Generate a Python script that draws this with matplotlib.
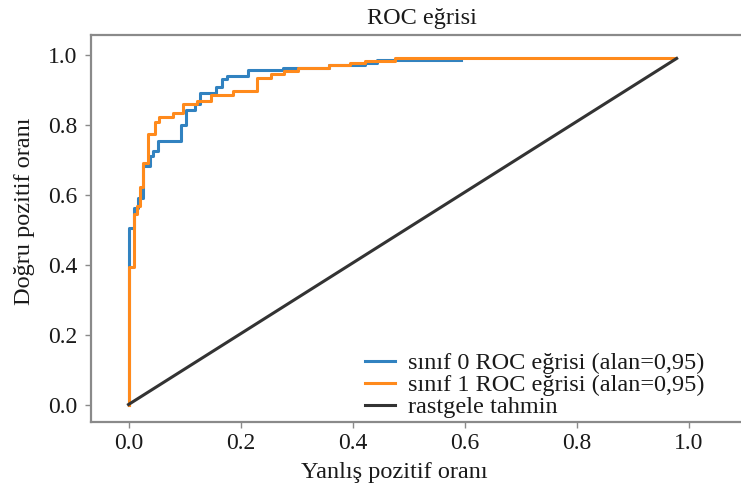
import matplotlib
matplotlib.use("Agg")
import matplotlib.pyplot as plt

# ROC curve vertices
fpr0 = [0, 0, 0.009, 0.009, 0.017, 0.017, 0.026, 0.026, 0.038, 0.038, 0.044, 0.044,
        0.053, 0.053, 0.094, 0.094, 0.103, 0.103, 0.119, 0.119, 0.128, 0.128,
        0.157, 0.157, 0.166, 0.166, 0.175, 0.175, 0.214, 0.214, 0.276, 0.276,
        0.358, 0.358, 0.422, 0.422, 0.443, 0.443, 0.594]
tpr0 = [0, 0.504, 0.504, 0.563, 0.563, 0.591, 0.591, 0.682, 0.682, 0.711, 0.711, 0.725,
        0.725, 0.753, 0.753, 0.800, 0.800, 0.843, 0.843, 0.859, 0.859, 0.892,
        0.892, 0.907, 0.907, 0.931, 0.931, 0.940, 0.940, 0.957, 0.957, 0.962,
        0.962, 0.971, 0.971, 0.978, 0.978, 0.985, 0.985]

fpr1 = [0, 0, 0.009, 0.009, 0.015, 0.015, 0.021, 0.021, 0.026, 0.026, 0.034, 0.034,
        0.047, 0.047, 0.054, 0.054, 0.079, 0.079, 0.098, 0.098, 0.122, 0.122,
        0.148, 0.148, 0.187, 0.187, 0.229, 0.229, 0.254, 0.254, 0.277, 0.277,
        0.303, 0.303, 0.358, 0.358, 0.395, 0.395, 0.422, 0.422, 0.475, 0.475, 0.975]
tpr1 = [0, 0.392, 0.392, 0.545, 0.545, 0.569, 0.569, 0.621, 0.621, 0.692, 0.692, 0.775,
        0.775, 0.809, 0.809, 0.822, 0.822, 0.833, 0.833, 0.860, 0.860, 0.869,
        0.869, 0.885, 0.885, 0.897, 0.897, 0.933, 0.933, 0.945, 0.945, 0.954,
        0.954, 0.964, 0.964, 0.971, 0.971, 0.977, 0.977, 0.983, 0.983, 0.991, 0.991]

rand_x = [0, 0.978]
rand_y = [0, 0.990]

labels = ["sınıf 0 ROC eğrisi (alan=0,95)", "sınıf 1 ROC eğrisi (alan=0,95)", "rastgele tahmin"]
xticks = [0.0, 0.2, 0.4, 0.6, 0.8, 1.0]
yticks = [0.0, 0.2, 0.4, 0.6, 0.8, 1.0]

plt.rcParams['font.family'] = ['Liberation Serif', 'DejaVu Serif']
txt = '#1a1a1a'
grey = '#8a8a8a'

fig = plt.figure(figsize=(7.41, 5.0), dpi=100)
W, H = 741, 500
left_px, right_px, top_px, bot_px = 91, 746, 35, 422
ax = fig.add_axes([left_px / W, 1 - bot_px / H, (right_px - left_px) / W, (bot_px - top_px) / H])

ax.plot(fpr0, tpr0, color='#3182c0', lw=2.2, label=labels[0])
ax.plot(fpr1, tpr1, color='#ff8a1c', lw=2.2, label=labels[1])
ax.plot(rand_x, rand_y, color='#333333', lw=2.2, label=labels[2])

x0px = 128.5
xscale = 560.5
ax.set_xlim((left_px - x0px) / xscale, (right_px - x0px) / xscale)
ax.set_ylim(-0.05, 1.057)

ax.set_xticks(xticks)
ax.set_yticks(yticks)
ax.set_xticklabels([f"{v:.1f}" for v in xticks])
ax.set_yticklabels([f"{v:.1f}" for v in yticks])
ax.tick_params(axis='both', colors=grey, length=4, width=1, labelsize=17, labelcolor=txt)
ax.tick_params(axis='x', pad=4)
ax.tick_params(axis='y', pad=6)

for s in ['left', 'bottom', 'top']:
    ax.spines[s].set_color(grey)
    ax.spines[s].set_linewidth(1.6)
ax.spines['right'].set_visible(False)

ax.set_title("ROC eğrisi", fontsize=17.5, color=txt, x=0.505, pad=8)
ax.set_xlabel("Yanlış pozitif oranı", fontsize=17.5, color=txt)
ax.set_ylabel("Doğru pozitif oranı", fontsize=17.5, color=txt)
ax.xaxis.set_label_coords(0.463, -0.103)
ax.yaxis.set_label_coords(-0.085, 0.544)

leg = ax.legend(loc='upper left', bbox_to_anchor=((365 - left_px) / (right_px - left_px), (bot_px - 352) / (bot_px - top_px)),
                frameon=False, fontsize=17.5, handlelength=1.25, handletextpad=0.5,
                labelspacing=0.0, borderpad=0, borderaxespad=0)
for t in leg.get_texts():
    t.set_color(txt)

fig.savefig("out.png", dpi=100)
